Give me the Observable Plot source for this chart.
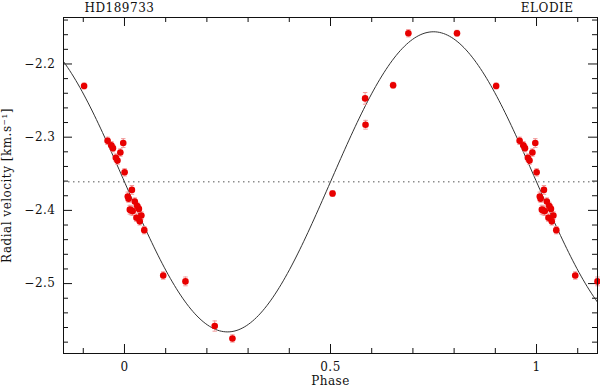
<!DOCTYPE html>
<html>
<head>
<meta charset="utf-8">
<script src="https://cdn.jsdelivr.net/npm/d3@7"></script>
<script src="https://cdn.jsdelivr.net/npm/@observablehq/plot@0.6"></script>
<style>
  html, body { margin: 0; padding: 0; background: #fff; }
</style>
</head>
<body>
<div id="chart"></div>
<script>
// ---- Data (phase in [0,1), RV in km/s, error in km/s) ----
const phases = [0.959, 0.968, 0.972, 0.997, 0.990, 0.979, 0.983, 0.0003,
  0.018, 0.008, 0.010, 0.025, 0.013, 0.016, 0.020, 0.031, 0.035, 0.041, 0.029, 0.037, 0.048,
  0.094, 0.148, 0.219, 0.262, 0.505, 0.584, 0.585, 0.652, 0.689, 0.807, 0.902];
const velocities = [-2.305, -2.311, -2.315, -2.308, -2.321, -2.328, -2.332, -2.348,
  -2.372, -2.381, -2.384, -2.388, -2.399, -2.400, -2.401, -2.394, -2.398, -2.407, -2.410, -2.415, -2.427,
  -2.489, -2.497, -2.558, -2.575, -2.377, -2.247, -2.283, -2.229, -2.158, -2.158, -2.230];
const errors = [0.005, 0.005, 0.005, 0.006, 0.005, 0.005, 0.005, 0.005,
  0.006, 0.006, 0.005, 0.005, 0.006, 0.006, 0.006, 0.005, 0.005, 0.005, 0.005, 0.005, 0.005,
  0.005, 0.006, 0.007, 0.005, 0.004, 0.008, 0.006, 0.004, 0.005, 0.004, 0.004];

// Orbital fit (circular orbit): systemic velocity and semi-amplitude, km/s
const gamma = -2.361;
const semiAmplitude = 0.205;

// Axis ticks
const xMajor = [0, 0.5, 1];
const xMinor = [-0.1, 0.1, 0.2, 0.3, 0.4, 0.6, 0.7, 0.8, 0.9, 1.1];
const yMajor = [-2.5, -2.4, -2.3, -2.2];
const yMinor = [-2.58, -2.56, -2.54, -2.52, -2.48, -2.46, -2.44, -2.42, -2.38, -2.36, -2.34, -2.32,
  -2.28, -2.26, -2.24, -2.22, -2.18, -2.16, -2.14];

const xDomain = [-0.148, 1.148];
const yDomain = [-2.5955, -2.1365];

// Phase-folded display: each measurement shown at phase-1, phase, phase+1 if within window
const points = [];
phases.forEach((p, i) => {
  for (const shift of [-1, 0, 1]) {
    const ph = p + shift;
    if (ph >= -0.15 && ph <= 1.15) points.push({phase: ph, v: velocities[i], err: errors[i]});
  }
});

// Model curve from the fitted parameters
const model = d3.range(0, 261).map(i => {
  const ph = xDomain[0] + (xDomain[1] - xDomain[0]) * i / 260;
  return {phase: ph, v: gamma - semiAmplitude * Math.sin(2 * Math.PI * ph)};
});

const W = 600, H = 388, ML = 63, MR = 3, MT = 17, MB = 35;
const frameW = W - ML - MR, frameH = H - MT - MB;
const majorLen = 9, minorLen = 5;

const capSymbol = { draw(ctx, size) { const w = Math.sqrt(size) / 2; ctx.moveTo(-w, 0); ctx.lineTo(w, 0); } };
const fmt = d => String(d).replace("-", "\u2212");

const axisColor = "#111";
const errColor = "#f29a9a";
const dotColor = "#e80000";

const inwardX = (ticks, len) => [
  Plot.tickX(ticks, {x: d => d, insetTop: frameH - len, stroke: axisColor}),
  Plot.tickX(ticks, {x: d => d, insetBottom: frameH - len, stroke: axisColor})
];
const inwardY = (ticks, len) => [
  Plot.tickY(ticks, {y: d => d, insetRight: frameW - len, stroke: axisColor}),
  Plot.tickY(ticks, {y: d => d, insetLeft: frameW - len, stroke: axisColor})
];

const chart = Plot.plot({
  width: W,
  height: H,
  marginLeft: ML,
  marginRight: MR,
  marginTop: MT,
  marginBottom: MB,
  style: {fontFamily: "DejaVu Serif", fontSize: "12px", letterSpacing: "0.5px", background: "#fff", color: "#111"},
  x: {domain: xDomain},
  y: {domain: yDomain},
  marks: [
    // inward ticks on all four sides
    ...inwardX(xMajor, majorLen),
    ...inwardX(xMinor, minorLen),
    ...inwardY(yMajor, majorLen),
    ...inwardY(yMinor, minorLen),
    // tick labels + axis titles
    Plot.axisX(xMajor, {anchor: "bottom", tickSize: 0, tickPadding: 9, tickFormat: fmt, label: "Phase", labelAnchor: "center", labelOffset: 31, labelArrow: "none"}),
    Plot.axisY(yMajor, {anchor: "left", tickSize: 0, tickPadding: 8, tickFormat: fmt, label: "Radial velocity [km.s⁻¹]", labelAnchor: "center", labelOffset: 61, labelArrow: "none"}),
    // systemic velocity
    Plot.ruleY([gamma], {stroke: "#555", strokeDasharray: "1.5,3.5"}),
    // model
    Plot.line(model, {x: "phase", y: "v", stroke: "#333", strokeWidth: 1, clip: true}),
    // error bars
    Plot.ruleX(points, {x: "phase", y1: d => d.v - d.err, y2: d => d.v + d.err, stroke: errColor, strokeWidth: 1}),
    Plot.dot(points, {x: "phase", y: d => d.v - d.err, symbol: capSymbol, r: 2.5, stroke: errColor, fill: "none", strokeWidth: 1}),
    Plot.dot(points, {x: "phase", y: d => d.v + d.err, symbol: capSymbol, r: 2.5, stroke: errColor, fill: "none", strokeWidth: 1}),
    // measurements
    Plot.dot(points, {x: "phase", y: "v", r: 3.3, fill: dotColor, stroke: "none"}),
    // frame + labels
    Plot.frame({stroke: axisColor}),
    Plot.text(["HD189733"], {frameAnchor: "top-left", textAnchor: "start", dx: 21, dy: -9.5, lineAnchor: "middle", fill: "#111"}),
    Plot.text(["ELODIE"], {frameAnchor: "top-right", textAnchor: "end", dx: -24, dy: -9.5, lineAnchor: "middle", fill: "#111"})
  ]
});
document.getElementById("chart").appendChild(chart);
</script>
</body>
</html>
